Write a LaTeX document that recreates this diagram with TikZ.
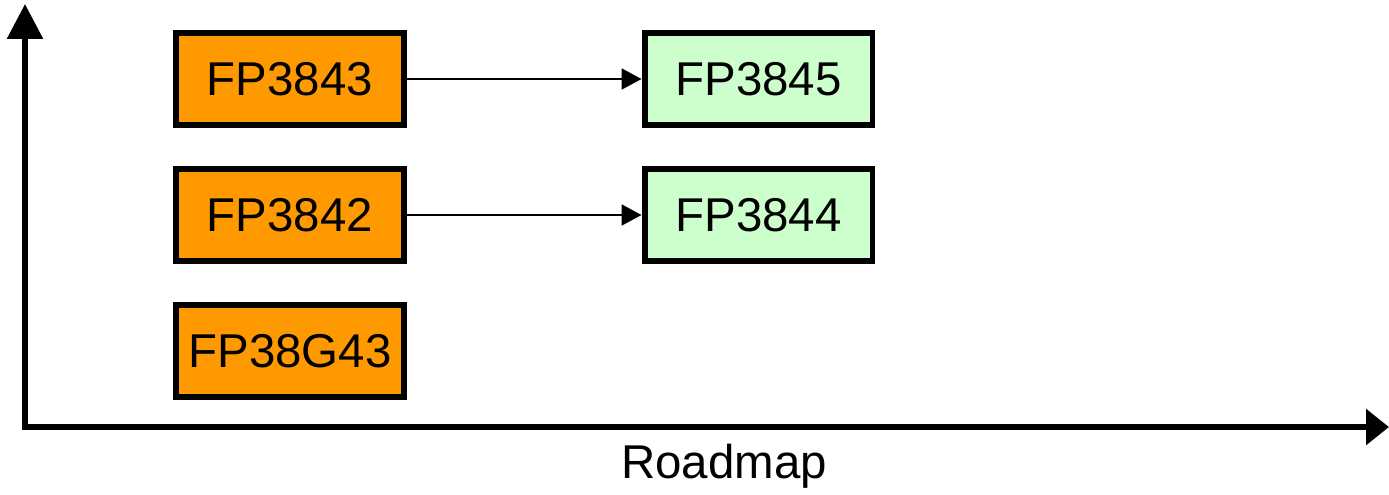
\documentclass[tikz,border=0pt]{standalone}
\usepackage{fontspec}
\setmainfont{Liberation Sans}
\usetikzlibrary{arrows.meta}
\definecolor{oldorange}{HTML}{FF9900}
\definecolor{newgreen}{HTML}{CCFFCC}

\begin{document}
\begin{tikzpicture}[x=0.02cm, y=-0.02cm, axis/.style={line width=3.4pt, {Triangle[length=0.7cm,width=0.7cm]}-{Triangle[length=0.46cm,width=0.7cm]}}, link/.style={-{Triangle[length=0.4cm,width=0.42cm]}, line width=1.1pt}, box/.style={draw, line width=3.4pt, minimum width=4.56cm, minimum height=1.84cm, inner sep=0pt, font=\fontsize{27}{32}\selectfont}, oldbox/.style={box, fill=oldorange}, newbox/.style={box, fill=newgreen}]
\useasboundingbox (0,0) rectangle (1389,494);
\coordinate (ytop) at (25,4); \coordinate (origin) at (25,427); \coordinate (xend) at (1389,427);
\draw[axis] (ytop)--(origin)--(xend);
\node[font=\fontsize{27}{32}\selectfont] (roadmap) at (724,466) {Roadmap};
\node[oldbox] (fp3843) at (290,79) {FP3843}; \node[oldbox] (fp3842) at (290,215) {FP3842}; \node[oldbox] (fp38g43) at (290,351) {FP38G43};
\node[newbox] (fp3845) at (758.5,79) {FP3845}; \node[newbox] (fp3844) at (758.5,215) {FP3844};
\draw[link] (fp3843)--(fp3845); \draw[link] (fp3842)--(fp3844);
\end{tikzpicture}
\end{document}
